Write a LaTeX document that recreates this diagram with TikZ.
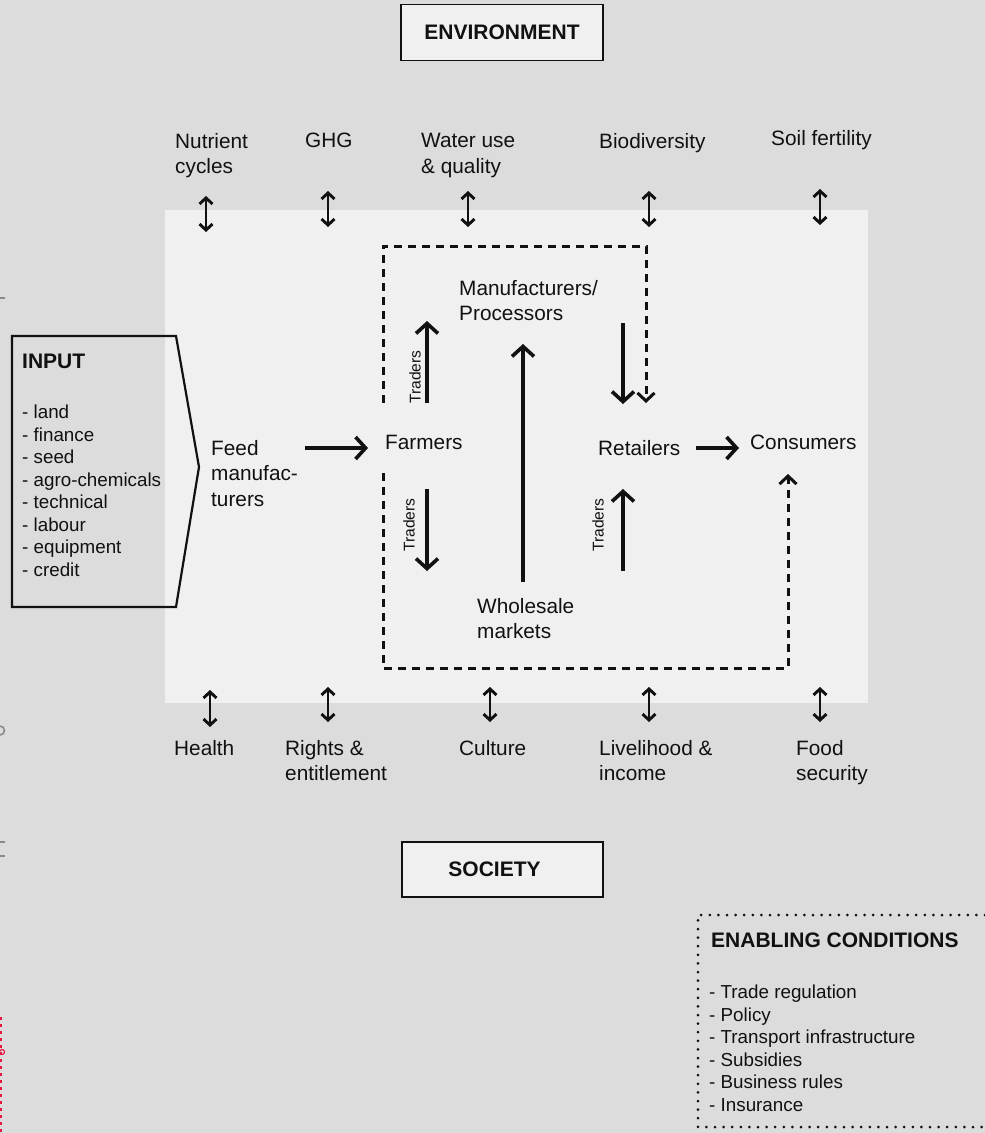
\documentclass[tikz,border=0pt]{standalone}
\usepackage{fontspec}
\setmainfont{Liberation Sans}
\usetikzlibrary{arrows.meta}
\definecolor{bg}{HTML}{DCDCDC}
\definecolor{panel}{HTML}{F0F0F0}
\definecolor{ink}{HTML}{111111}
\definecolor{frag}{HTML}{8A8A8A}
\definecolor{fragred}{HTML}{E8173F}
\begin{document}
\begin{tikzpicture}[x=1pt,y=-1pt,
  lbl/.style={inner sep=0pt, text=ink, font=\fontsize{20.8}{25.5}\selectfont, align=left},
  listtxt/.style={inner sep=0pt, text=ink, font=\fontsize{18.8}{22.5}\selectfont, align=left},
  boldtxt/.style={inner sep=0pt, text=ink, font=\bfseries\fontsize{21}{24}\selectfont},
  titlebox/.style={draw=ink, line width=1.8pt, fill=panel, text=ink, font=\bfseries\fontsize{21}{24}\selectfont, inner sep=0pt},
  traders/.style={inner sep=0pt, text=ink, font=\fontsize{15.6}{18}\selectfont, rotate=90},
  arr/.style={draw=ink, line width=3.6pt, -{Straight Barb[length=10pt,width=22pt]}},
  dbl/.style={draw=ink, line width=2.9pt, {Straight Barb[length=6pt,width=13pt]}-{Straight Barb[length=6pt,width=13pt]}},
  dsh/.style={draw=ink, line width=3pt, dash pattern=on 8pt off 6pt},
  dsharr/.style={dsh, -{Straight Barb[length=8pt,width=17pt]}},
  dots/.style={draw=ink, line width=3pt, line cap=round, dash pattern=on 0pt off 8.6pt}
]
% background and margins
\fill[bg] (0,0) rectangle (985,1133);
\useasboundingbox (0,0) rectangle (985,1133);
\fill[panel] (165,210) rectangle (868,703);

% cut-off fragments at the left edge
\draw[frag, line width=2pt] (0,298) -- (5,298);
\draw[frag, line width=1.6pt] (0,726) arc[start angle=90, end angle=-90, radius=4.5pt];
\draw[frag, line width=2pt] (0,842) -- (5,842);
\draw[frag, line width=2pt] (0,856) -- (5,856);
\draw[fragred, line width=1.6pt, dash pattern=on 3pt off 4pt] (1,1017) -- (1,1133);
\draw[fragred, line width=1.2pt] (2,1052) circle[radius=2.5pt];

% title boxes
\node[titlebox, minimum width=202pt, minimum height=56pt] (env) at (502,32.5) {ENVIRONMENT};
\node[titlebox, minimum width=201pt, minimum height=55pt] (soc) at (502.5,869.5) {\hspace*{-16pt}SOCIETY};

% environment labels
\node[lbl, anchor=north west] (nutrient) at (175,133) {Nutrient\\cycles};
\node[lbl, anchor=north west] (ghg) at (305,133) {GHG};
\node[lbl, anchor=north west] (water) at (421,133) {Water use\\\& quality};
\node[lbl, anchor=north west] (biodiv) at (599,133) {Biodiversity};
\node[lbl, anchor=north west] (soil) at (771,130) {Soil fertility};

\draw[dbl] (206,196) -- (206,232);
\draw[dbl] (328,191) -- (328,227);
\draw[dbl] (468,191) -- (468,227);
\draw[dbl] (649,191) -- (649,227);
\draw[dbl] (820,189) -- (820,225);

% society labels
\node[lbl, anchor=north west] (health) at (174,740) {Health};
\node[lbl, anchor=north west] (rights) at (285,740) {Rights \&\\entitlement};
\node[lbl, anchor=north west] (culture) at (459,740) {Culture};
\node[lbl, anchor=north west] (livelihood) at (599,740) {Livelihood \&\\income};
\node[lbl, anchor=north west] (food) at (796,740) {Food\\security};

\draw[dbl] (210,690) -- (210,727);
\draw[dbl] (328,687) -- (328,722);
\draw[dbl] (490,687) -- (490,722);
\draw[dbl] (649,687) -- (649,722);
\draw[dbl] (820,687) -- (820,722);

% input
\draw[draw=ink, line width=2.2pt, line join=miter] (12,336) -- (176,336) -- (199,467) -- (176,607) -- (12,607) -- cycle;
\node[boldtxt, anchor=west] (inputtitle) at (22,361) {INPUT};
\node[listtxt, anchor=north west] (inputlist) at (22,405) {- land\\- finance\\- seed\\- agro-chemicals\\- technical\\- labour\\- equipment\\- credit};

% chain actors
\node[lbl, anchor=north west] (feed) at (211,440) {Feed\\manufac-\\turers};
\node[lbl, anchor=west] (farmers) at (385,442) {Farmers};
\node[lbl, anchor=north west] (manuf) at (459,280) {Manufacturers/\\Processors};
\node[lbl, anchor=north west] (wholesale) at (477,598) {Wholesale\\markets};
\node[lbl, anchor=west] (retailers) at (598,448) {Retailers};
\node[lbl, anchor=west] (consumers) at (750,442) {Consumers};

% dashed frame
\coordinate (d1) at (383,403);
\coordinate (d2) at (383,246);
\coordinate (d3) at (646,246);
\coordinate (d4) at (646,403);
\coordinate (e1) at (383,473);
\coordinate (e2) at (383,668);
\coordinate (e3) at (788,668);
\coordinate (e4) at (788,474);
\draw[dsharr] (d1) -- (d2) -- (d3) -- (d4);
\draw[dsharr] (e1) -- (e2) -- (e3) -- (e4);

% solid arrows
\draw[arr] (305,448) -- (368,448);
\draw[arr] (427,403) -- (427,321);
\draw[arr] (427,489) -- (427,571);
\draw[arr] (523,582) -- (523,344);
\draw[arr] (623,323) -- (623,404);
\draw[arr] (623,571) -- (623,489);
\draw[arr] (696,448) -- (739,448);

\node[traders] (tr1) at (415,377) {Traders};
\node[traders] (tr2) at (409,525) {Traders};
\node[traders] (tr3) at (598,525) {Traders};

% enabling conditions
\draw[dots] (985,915) -- (698,915) -- (698,1127) -- (985,1127);
\node[boldtxt, anchor=west] (enabtitle) at (711,940) {ENABLING CONDITIONS};
\node[listtxt, anchor=north west] (enablist) at (709,985) {- Trade regulation\\- Policy\\- Transport infrastructure\\- Subsidies\\- Business rules\\- Insurance};
\end{tikzpicture}
\end{document}
